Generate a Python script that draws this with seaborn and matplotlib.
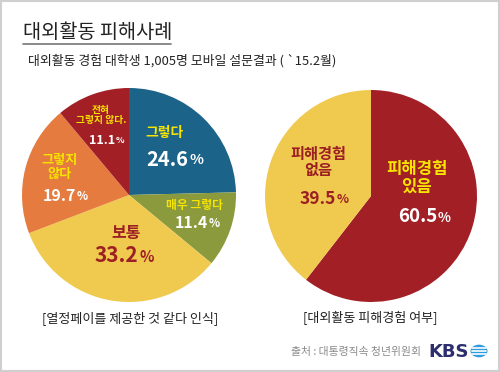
import matplotlib
matplotlib.use("Agg")
import matplotlib.pyplot as plt
from matplotlib.lines import Line2D
from matplotlib.patches import Rectangle, Circle
import seaborn as sns

# data
survey_labels = ["그렇다", "매우 그렇다", "보통", "그렇지\n않다", "전혀\n그렇지 않다."]
survey_values = [24.6, 11.4, 33.2, 19.7, 11.1]
survey_colors = ["#1b6389", "#8a9a3c", "#f0c94f", "#e57b3f", "#a21f26"]

damage_labels = ["피해경험\n있음", "피해경험\n없음"]
damage_values = [60.5, 39.5]
damage_colors = ["#a21f26", "#f0c94f"]

sns.set_theme(style="white")
plt.rcParams['font.family'] = ['Noto Sans CJK KR', 'DejaVu Sans']

W, H = 500, 372
fig = plt.figure(figsize=(5.0, 3.72), dpi=100)
fig.patch.set_facecolor("white")


def px(x, y):
    """pixel position (from top-left) -> figure fraction"""
    return x / W, 1 - y / H


def pie_axes(cx, cy, r):
    return fig.add_axes([(cx - r) / W, 1 - (cy + r) / H, 2 * r / W, 2 * r / H])


def pct_label(x, y, value, size, color):
    fx, fy = px(x, y)
    fig.text(fx, fy, f"{value:.1f}", ha="right", va="center", fontsize=size,
             color=color, fontweight="bold")
    fig.text(fx + 0.002, fy - 0.002, "%", ha="left", va="center", fontsize=size * 0.72,
             color=color, fontweight="bold")


def label(x, y, s, size, color, ls=1.1):
    fx, fy = px(x, y)
    fig.text(fx, fy, s, ha="center", va="center", fontsize=size, color=color,
             fontweight="bold", linespacing=ls)


wedge_style = {"linewidth": 0, "edgecolor": "none"}

# left pie
ax1 = pie_axes(129, 195, 107)
ax1.pie(survey_values, colors=sns.color_palette(survey_colors), startangle=90,
        counterclock=False, radius=1, wedgeprops=wedge_style)
ax1.set_xlim(-1, 1)
ax1.set_ylim(-1, 1)
ax1.axis("off")

# right pie
ax2 = pie_axes(371, 196, 106)
ax2.pie(damage_values, colors=sns.color_palette(damage_colors), startangle=90,
        counterclock=False, radius=1, wedgeprops=wedge_style)
ax2.set_xlim(-1, 1)
ax2.set_ylim(-1, 1)
ax2.axis("off")

yellow = "#f7e400"
dred = "#9c1f24"

# left pie labels
label(165, 133, survey_labels[0], 10, yellow)
pct_label(188, 159, survey_values[0], 14.5, "white")
label(195, 206, survey_labels[1], 8.5, yellow)
pct_label(208, 223, survey_values[1], 11.5, "white")
label(126, 233, survey_labels[2], 11.5, dred)
pct_label(138, 256, survey_values[2], 15, dred)
label(60, 167, survey_labels[3], 9.5, yellow, ls=1.0)
pct_label(76, 196, survey_values[3], 11.5, "white")
label(101, 115, survey_labels[4], 7, yellow, ls=1.05)
pct_label(115, 140, survey_values[4], 9, "white")

# right pie labels
label(417, 178, damage_labels[0], 12, yellow, ls=1.0)
pct_label(437, 217, damage_values[0], 13.5, "white")
label(318, 162, damage_labels[1], 11, dred, ls=1.0)
pct_label(336, 199, damage_values[1], 12.5, dred)

# titles
fig.text(*px(23, 32), "대외활동 피해사례", fontsize=14.2, color="#222222",
         ha="left", va="center", fontweight="medium")
fig.add_artist(Line2D([23 / W, 171 / W], [1 - 43.5 / H] * 2, color="#777777",
                      lw=1.2, transform=fig.transFigure))
fig.text(*px(28, 61), "대외활동 경험 대학생 1,005명 모바일 설문결과 ( `15.2월)",
         fontsize=9.3, color="#222222", ha="left", va="center")

# captions
fig.text(*px(130, 318), "[열정페이를 제공한 것 같다 인식]", fontsize=9.4,
         color="#222222", ha="center", va="center")
fig.text(*px(370, 318), "[대외활동 피해경험 여부]", fontsize=9.4,
         color="#222222", ha="center", va="center")

# source + logo
fig.text(*px(421, 352), "출처 : 대통령직속 청년위원회", fontsize=7.8, color="#8a8a8a",
         ha="right", va="center")
fig.text(*px(428, 352), "KBS", fontsize=13, color="#2c2e6e", ha="left",
         va="center", fontweight="bold", family="DejaVu Sans")
fig.add_artist(Circle(px(479, 351), 8.5 / W, transform=fig.transFigure,
                      facecolor="#2f9be0", edgecolor="none"))
for dy in (-3, 0, 3):
    fig.add_artist(Line2D([472 / W, 486 / W], [1 - (351 + dy) / H] * 2,
                          color="white", lw=1.2, transform=fig.transFigure))

# frame
fig.add_artist(Rectangle((0.001, 0.002), 0.997, 0.995, transform=fig.transFigure,
                         fill=False, edgecolor="#cfcfcf", lw=1.5))

fig.savefig("out.png", dpi=100)
